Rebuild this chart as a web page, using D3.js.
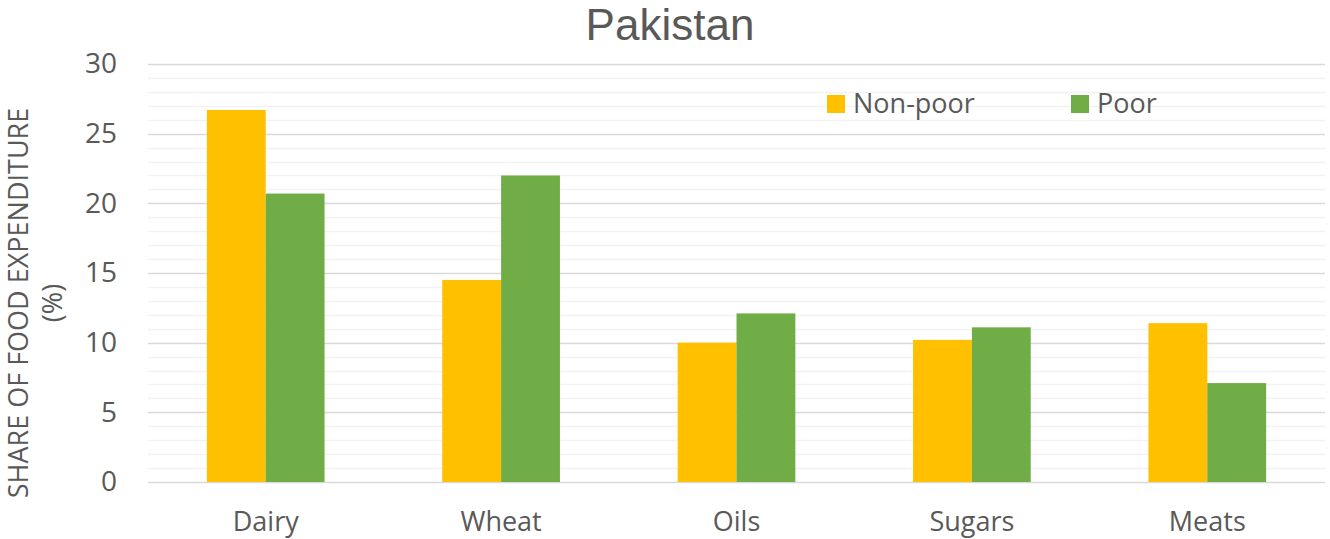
<!DOCTYPE html>
<html>
<head>
<meta charset="utf-8">
<script src="https://cdn.jsdelivr.net/npm/d3@7"></script>
<style>
  body { margin: 0; background: #fff; }
  text { font-family: "Open Sans", "Noto Sans", sans-serif; fill: #595959; }
</style>
</head>
<body>
<div id="chart"></div>
<script>
var categories = ['Dairy', 'Wheat', 'Oils', 'Sugars', 'Meats'];
var seriesNames = ['Non-poor', 'Poor'];
var nonPoor = [26.7, 14.5, 10.0, 10.2, 11.4];
var poor = [20.7, 22.0, 12.1, 11.1, 7.1];
var yTicks = [0, 5, 10, 15, 20, 25, 30];
var colors = ['#FFC000', '#70AD47'];

var width = 1330, height = 539;
var margin = {top: 64, right: 5, bottom: 57, left: 148};
var plotW = width - margin.left - margin.right;
var plotH = height - margin.top - margin.bottom;

var svg = d3.select('#chart').append('svg')
  .attr('width', width).attr('height', height);

var g = svg.append('g').attr('transform', 'translate(' + margin.left + ',' + margin.top + ')');

var x = d3.scaleBand().domain(categories).range([0, plotW]);
var x1 = d3.scaleBand().domain(seriesNames).range([0, x.bandwidth() / 2]);
var y = d3.scaleLinear().domain([0, 30]).range([plotH, 0]);

// minor gridlines
g.selectAll('.minor')
  .data(d3.range(1, 30).filter(function (d) { return d % 5 !== 0; }))
  .enter().append('line')
  .attr('x1', 0).attr('x2', plotW)
  .attr('y1', function (d) { return Math.round(y(d)) + 0.5; })
  .attr('y2', function (d) { return Math.round(y(d)) + 0.5; })
  .attr('stroke', '#f2f2f2').attr('stroke-width', 1.5);

// major gridlines
g.selectAll('.major')
  .data(yTicks)
  .enter().append('line')
  .attr('x1', 0).attr('x2', plotW)
  .attr('y1', function (d) { return Math.round(y(d)) + 0.5; })
  .attr('y2', function (d) { return Math.round(y(d)) + 0.5; })
  .attr('stroke', '#d9d9d9').attr('stroke-width', 1.5);

// y axis labels
var yAxis = g.append('g').call(d3.axisLeft(y).tickValues(yTicks).tickSize(0).tickPadding(31));
yAxis.select('.domain').remove();
yAxis.selectAll('text').style('font-size', '28px').attr('fill', '#595959');

// bars
var data = categories.map(function (c, i) {
  return {cat: c, vals: [nonPoor[i], poor[i]]};
});
var groups = g.selectAll('.grp').data(data).enter().append('g')
  .attr('transform', function (d) { return 'translate(' + (x(d.cat) + x.bandwidth() / 4) + ',0)'; });
groups.selectAll('rect')
  .data(function (d) { return d.vals.map(function (v, j) { return {name: seriesNames[j], v: v, j: j}; }); })
  .enter().append('rect')
  .attr('x', function (d) { return x1(d.name); })
  .attr('width', x1.bandwidth())
  .attr('y', function (d) { return y(d.v); })
  .attr('height', function (d) { return plotH - y(d.v); })
  .attr('fill', function (d) { return colors[d.j]; });

// x axis labels
var xAxis = g.append('g').attr('transform', 'translate(0,' + plotH + ')')
  .call(d3.axisBottom(x).tickSize(0));
xAxis.select('.domain').remove();
xAxis.selectAll('text').style('font-size', '27px').attr('fill', '#595959')
  .attr('y', 49).attr('dy', 0);

// title
svg.append('text').attr('x', 670).attr('y', 40).attr('text-anchor', 'middle')
  .style('font-family', '"Liberation Sans", sans-serif')
  .style('font-size', '44px').text('Pakistan');

// y axis title
var yt = svg.append('text').attr('transform', 'translate(28,303) rotate(-90)')
  .attr('text-anchor', 'middle').style('font-size', '27px');
yt.append('tspan').attr('x', 0).attr('dy', 0).text('SHARE OF FOOD EXPENDITURE');
yt.append('tspan').attr('x', 0).attr('dy', 34).text('(%)');

// legend
var legendX = [827, 1071];
var legend = svg.selectAll('.leg').data(seriesNames).enter().append('g')
  .attr('transform', function (d, i) { return 'translate(' + legendX[i] + ',95)'; });
legend.append('rect').attr('width', 18).attr('height', 18)
  .attr('fill', function (d, i) { return colors[i]; });
legend.append('text').attr('x', 26).attr('y', 18).style('font-size', '27px')
  .text(function (d) { return d; });
</script>
</body>
</html>
